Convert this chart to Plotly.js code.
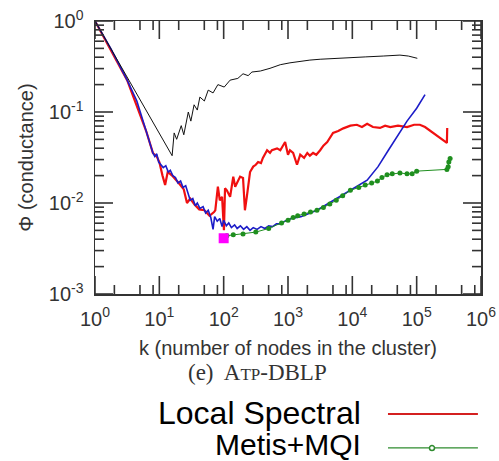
<!DOCTYPE html>
<html>
<head>
<meta charset="utf-8">
<script src="https://cdn.plot.ly/plotly-3.0.1.min.js"></script>
<style>html,body{margin:0;padding:0;background:#fff;}</style>
</head>
<body>
<div id="chart"></div>
<script>
// ---- data (k = cluster size, phi = conductance) ----
var blackK = [1, 15.8, 17.0, 18.6, 21.9, 24.0, 28.2, 30.9, 34.7, 38.9, 42.7, 50.1, 57.5, 68.4, 81.3, 102, 126, 166, 200, 240, 275, 372, 525, 759, 1072, 1549, 2188, 3162, 5370, 9333, 15849, 30200, 54954, 74131, 91201, 102329];
var blackPhi = [1, 0.0331, 0.0589, 0.0501, 0.0708, 0.0562, 0.100, 0.0794, 0.120, 0.105, 0.146, 0.132, 0.174, 0.162, 0.200, 0.188, 0.224, 0.234, 0.263, 0.251, 0.275, 0.282, 0.302, 0.331, 0.347, 0.363, 0.372, 0.380, 0.389, 0.394, 0.403, 0.412, 0.422, 0.412, 0.394, 0.389];

var blueK = [1, 1.78, 3.16, 4.47, 6.31, 7.16, 7.94, 8.51, 9.12, 9.77, 10.7, 11.5, 12.6, 13.8, 14.8, 16.2, 17.8, 19.5, 21.4, 23.4, 25.7, 28.2, 30.2, 33.1, 36.3, 38.9, 42.7, 47.9, 52.5, 57.5, 63.1, 68.4, 72.4, 79.4, 87.1, 94.4, 100, 110, 120, 132, 148, 162, 182, 204, 229, 257, 288, 331, 380, 437, 501, 575, 661, 759, 891, 1122, 1585, 2818, 5012, 9333, 16982, 25119, 36308, 50119, 70795, 100000, 134896];
var bluePhi = [1, 0.49, 0.224, 0.132, 0.0603, 0.0447, 0.0355, 0.0324, 0.0347, 0.0282, 0.0263, 0.0245, 0.0257, 0.0219, 0.0229, 0.0200, 0.0191, 0.0166, 0.0174, 0.0148, 0.0155, 0.0129, 0.0107, 0.0112, 0.00933, 0.0100, 0.00871, 0.00912, 0.00776, 0.00832, 0.00692, 0.00513, 0.00708, 0.00631, 0.00676, 0.00550, 0.00646, 0.00562, 0.00603, 0.00537, 0.00575, 0.00525, 0.00562, 0.00513, 0.00550, 0.00501, 0.00537, 0.00513, 0.00550, 0.00525, 0.00562, 0.00550, 0.00589, 0.00589, 0.00631, 0.00676, 0.00708, 0.00832, 0.0105, 0.0138, 0.0178, 0.0251, 0.0380, 0.0537, 0.0794, 0.110, 0.155];

var spectralK = [1, 3.16, 6.31, 7.94, 9.12, 10, 11.2, 12.3, 13.5, 15.8, 20, 24, 26.9, 30.2, 35.5, 41.7, 50.1, 60.3, 70.8, 74.1, 81.3, 87.1, 94.4, 101, 105, 112, 126, 141, 151, 166, 180, 200, 214, 229, 257, 288, 316, 343, 380, 407, 473, 525, 562, 676, 759, 813, 902, 1000, 1072, 1202, 1380, 1549, 1778, 1995, 2188, 2455, 2754, 3162, 3548, 4074, 4467, 5012, 6026, 7244, 9333, 11749, 14125, 16982, 20893, 26915, 32359, 38905, 51286, 70795, 91201, 112202, 134896, 181970, 234423, 295121, 298538];
var spectralPhi = [1, 0.224, 0.0603, 0.0355, 0.0324, 0.0282, 0.0200, 0.0158, 0.0219, 0.0200, 0.0166, 0.0141, 0.0100, 0.0112, 0.00955, 0.00851, 0.00832, 0.00724, 0.00794, 0.00832, 0.0151, 0.0107, 0.0117, 0.00501, 0.0145, 0.0138, 0.0117, 0.0195, 0.0151, 0.0170, 0.0195, 0.0188, 0.00832, 0.0117, 0.0219, 0.0251, 0.0263, 0.0282, 0.0275, 0.0313, 0.0380, 0.0355, 0.0380, 0.0398, 0.0380, 0.0412, 0.0468, 0.0339, 0.0380, 0.0355, 0.0263, 0.0339, 0.0313, 0.0355, 0.0331, 0.0355, 0.0339, 0.0380, 0.0427, 0.0468, 0.0513, 0.0589, 0.0617, 0.0661, 0.0708, 0.0724, 0.0684, 0.0741, 0.0684, 0.0668, 0.0708, 0.0684, 0.0708, 0.0684, 0.0724, 0.0724, 0.0684, 0.0589, 0.0513, 0.0457, 0.0668];

var metisK = [112, 141, 200, 316, 501, 794, 1000, 1202, 1413, 1778, 2239, 2818, 3548, 4467, 5623, 7079, 9333, 12589, 15849, 19953, 24547, 28840, 34674, 41687, 54954, 70795, 85114, 100000, 295121, 309030, 316228, 331131];
var metisPhi = [0.00437, 0.00447, 0.00457, 0.00479, 0.00525, 0.00603, 0.00646, 0.00692, 0.00724, 0.00759, 0.00794, 0.00832, 0.00891, 0.00977, 0.0107, 0.0120, 0.0138, 0.0148, 0.0158, 0.0166, 0.0174, 0.0191, 0.0204, 0.0209, 0.0214, 0.0209, 0.0209, 0.0224, 0.0234, 0.0251, 0.0282, 0.0309];

var bestK = [100];
var bestPhi = [0.0041];

var xTickVals = [1, 10, 100, 1000, 10000, 100000, 1000000];
var xTickText = ['10<sup>0</sup>', '10<sup>1</sup>', '10<sup>2</sup>', '10<sup>3</sup>', '10<sup>4</sup>', '10<sup>5</sup>', '10<sup>6</sup>'];
var xMinorVals = [2, 5, 8, 20, 50, 80, 200, 500, 800, 2000, 5000, 8000, 20000, 50000, 80000, 200000, 500000, 800000];
var yTickVals = [0.001, 0.01, 0.1, 1];
var yTickText = ['10<sup>-3</sup>', '10<sup>-2</sup>', '10<sup>-1</sup>', '10<sup>0</sup>'];
var yMinorVals = [0.002, 0.003, 0.004, 0.005, 0.006, 0.007, 0.008, 0.009, 0.02, 0.03, 0.04, 0.05, 0.06, 0.07, 0.08, 0.09, 0.2, 0.3, 0.4, 0.5, 0.6, 0.7, 0.8, 0.9];

var legendNames = ['Local Spectral', 'Metis+MQI'];
var xTitle = 'k (number of nodes in the cluster)';
var yTitle = '\u03A6 (conductance)';
var caption = "(e)  A<span style='font-size:17px'>TP</span>-DBLP";

var RED = '#f01010', BLUE = '#1c1cc8', GREEN = '#1f8f1f', AX = '#333333';
var X_RANGE = [0, 6], Y_RANGE = [-3, 0];
var W = 499, H = 461, M = {l: 95, r: 18, t: 21, b: 167};
var plotW = W - M.l - M.r, plotH = H - M.t - M.b;

// inside tick marks on all four sides, built from the tick value arrays
// (tick length given in pixels, converted to decades of the log axes)
function tickTrace() {
  var xs = [], ys = [];
  var xDec = (X_RANGE[1] - X_RANGE[0]) / plotW, yDec = (Y_RANGE[1] - Y_RANGE[0]) / plotH;
  var yLo = Math.pow(10, Y_RANGE[0]), yHi = Math.pow(10, Y_RANGE[1]);
  var xLo = Math.pow(10, X_RANGE[0]), xHi = Math.pow(10, X_RANGE[1]);
  function xt(v, len) {
    var f = Math.pow(10, len * yDec);
    xs.push(v, v, null, v, v, null);
    ys.push(yLo, yLo * f, null, yHi, yHi / f, null);
  }
  function yt(v, len) {
    var f = Math.pow(10, len * xDec);
    ys.push(v, v, null, v, v, null);
    xs.push(xLo, xLo * f, null, xHi, xHi / f, null);
  }
  xTickVals.forEach(function(v) { xt(v, 18); });
  xMinorVals.forEach(function(v) { xt(v, 9); });
  yTickVals.forEach(function(v) { yt(v, 18); });
  yMinorVals.forEach(function(v) { yt(v, 9); });
  return {x: xs, y: ys, type: 'scatter', mode: 'lines', name: 'ticks', hoverinfo: 'skip',
          connectgaps: false, line: {color: AX, width: 1.6}, cliponaxis: false};
}

var traces = [
  {x: spectralK, y: spectralPhi, type: 'scatter', mode: 'lines', name: legendNames[0], line: {color: RED, width: 2.2}},
  {x: blueK, y: bluePhi, type: 'scatter', mode: 'lines', name: 'blue', line: {color: BLUE, width: 1.6}},
  {x: metisK, y: metisPhi, type: 'scatter', mode: 'lines+markers', name: legendNames[1], line: {color: GREEN, width: 1}, marker: {color: GREEN, size: 5}},
  {x: blackK, y: blackPhi, type: 'scatter', mode: 'lines', name: 'black', line: {color: '#111111', width: 1}},
  {x: bestK, y: bestPhi, type: 'scatter', mode: 'markers', name: 'best', marker: {symbol: 'square', color: '#ff00ff', size: 10}},
  tickTrace()
];

function axis(range, vals, text, title, standoff, lblStandoff) {
  return {
    type: 'log', range: range, tickmode: 'array', tickvals: vals, ticktext: text,
    ticks: '', showline: true, linecolor: AX, linewidth: 1.5, mirror: true, showgrid: false, zeroline: false,
    ticklabelstandoff: lblStandoff,
    tickfont: {family: 'Liberation Sans, Arial, sans-serif', size: 20, color: AX},
    title: {text: title, font: {size: 20, color: AX}, standoff: standoff}
  };
}

var legendShapes = [
  {type: 'line', xref: 'paper', yref: 'paper', x0: 0.759, x1: 0.992, y0: -0.440, y1: -0.440, line: {color: '#d42020', width: 2}},
  {type: 'line', xref: 'paper', yref: 'paper', x0: 0.759, x1: 0.992, y0: -0.564, y1: -0.564, line: {color: '#2e8b2e', width: 1.2}},
  {type: 'circle', xref: 'paper', yref: 'paper', x0: 0.8666, x1: 0.8795, y0: -0.5733, y1: -0.555, line: {color: '#2e8b2e', width: 1.5}, fillcolor: '#ffffff'}
];

var layout = {
  width: W, height: H,
  margin: M,
  showlegend: false,
  font: {family: 'Liberation Sans, Arial, sans-serif', color: AX, size: 20},
  xaxis: axis(X_RANGE, xTickVals, xTickText, xTitle, 12, 6),
  yaxis: axis(Y_RANGE, yTickVals, yTickText, yTitle, 10, 6),
  annotations: [
    {xref: 'paper', yref: 'paper', x: 0.42, y: -0.288, text: caption, showarrow: false,
     xanchor: 'center', yanchor: 'middle', font: {family: 'Liberation Serif, Times New Roman, serif', size: 23, color: AX}},
    {xref: 'paper', yref: 'paper', x: 0.694, y: -0.436, text: legendNames[0], showarrow: false,
     xanchor: 'right', yanchor: 'middle', font: {family: 'Liberation Sans, Arial, sans-serif', size: 32, color: '#000'}},
    {xref: 'paper', yref: 'paper', x: 0.694, y: -0.552, text: legendNames[1], showarrow: false,
     xanchor: 'right', yanchor: 'middle', font: {family: 'Liberation Sans, Arial, sans-serif', size: 30, color: '#000'}}
  ],
  shapes: legendShapes
};

Plotly.newPlot('chart', traces, layout, {displayModeBar: false, staticPlot: true});
</script>
</body>
</html>
